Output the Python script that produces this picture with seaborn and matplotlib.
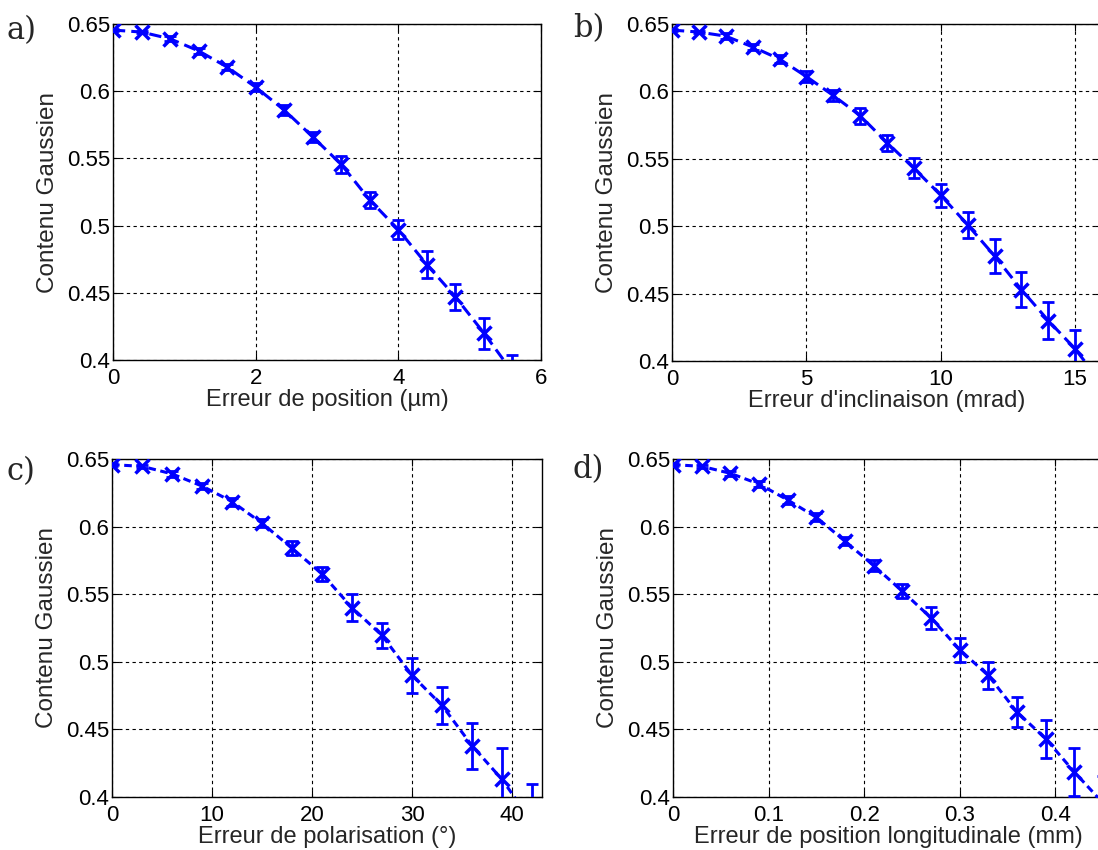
import matplotlib
matplotlib.use("Agg")
import matplotlib.pyplot as plt
import seaborn as sns
from matplotlib.ticker import FuncFormatter

sns.set_style("ticks")
plt.rcParams['font.family'] = ['Liberation Sans', 'DejaVu Sans']

# -----------------------------
# Data
# -----------------------------
# a) position error (um)
pos_x = [0, 0.4, 0.8, 1.2, 1.6, 2.0, 2.4, 2.8, 3.2, 3.6, 4.0, 4.4, 4.8, 5.2, 5.6]
pos_y = [0.6455, 0.644, 0.639, 0.630, 0.618, 0.603, 0.586, 0.566, 0.5455, 0.519,
         0.497, 0.471, 0.447, 0.420, 0.391]
pos_err = [0.001, 0.001, 0.002, 0.002, 0.002, 0.003, 0.004, 0.004, 0.006, 0.006,
           0.007, 0.010, 0.0095, 0.0115, 0.013]

# b) tilt error (mrad)
tilt_x = [0, 1, 2, 3, 4, 5, 6, 7, 8, 9, 10, 11, 12, 13, 14, 15, 16]
tilt_y = [0.6455, 0.644, 0.641, 0.633, 0.624, 0.611, 0.597, 0.582, 0.562, 0.543,
          0.523, 0.501, 0.478, 0.453, 0.430, 0.409, 0.383]
tilt_err = [0.001, 0.001, 0.002, 0.002, 0.003, 0.004, 0.004, 0.006, 0.006, 0.0075,
            0.0085, 0.0095, 0.0125, 0.013, 0.014, 0.014, 0.015]

# c) polarisation error (deg)
pol_x = [0, 3, 6, 9, 12, 15, 18, 21, 24, 27, 30, 33, 36, 39, 42]
pol_y = [0.6458, 0.6446, 0.639, 0.630, 0.6185, 0.6025, 0.584, 0.565, 0.540, 0.5195,
         0.490, 0.4677, 0.438, 0.413, 0.3815]
pol_err = [0.001, 0.001, 0.002, 0.002, 0.003, 0.003, 0.005, 0.005, 0.010, 0.009,
           0.013, 0.014, 0.017, 0.023, 0.028]

# d) longitudinal position error (mm)
lon_x = [0, 0.03, 0.06, 0.09, 0.12, 0.15, 0.18, 0.21, 0.24, 0.27, 0.30, 0.33, 0.36,
         0.39, 0.42, 0.45]
lon_y = [0.6458, 0.6446, 0.6394, 0.6315, 0.6197, 0.6069, 0.5892, 0.5712, 0.5522,
         0.5325, 0.5089, 0.4899, 0.4628, 0.4431, 0.4185, 0.3955]
lon_err = [0.001, 0.001, 0.002, 0.002, 0.003, 0.003, 0.003, 0.004, 0.005, 0.008,
           0.009, 0.010, 0.011, 0.014, 0.018, 0.020]

y_ticks = [0.4, 0.45, 0.5, 0.55, 0.6, 0.65]

panels = [
    dict(tag="a)", x=pos_x, y=pos_y, err=pos_err, xlim=(0, 6), xticks=[0, 2, 4, 6],
         xlabel="Erreur de position (µm)", px=(113, 24, 541, 360), tagpos=(7, 31),
         dash=(4, 2)),
    dict(tag="b)", x=tilt_x, y=tilt_y, err=tilt_err, xlim=(0, 16), xticks=[0, 5, 10, 15],
         xlabel="Erreur d'inclinaison (mrad)", px=(672, 24, 1102, 361), tagpos=(573, 29),
         dash=(4, 2)),
    dict(tag="c)", x=pol_x, y=pol_y, err=pol_err, xlim=(0, 43), xticks=[0, 10, 20, 30, 40],
         xlabel="Erreur de polarisation (°)", px=(112, 459, 542, 797), tagpos=(7, 472),
         dash=(2.5, 1.5)),
    dict(tag="d)", x=lon_x, y=lon_y, err=lon_err, xlim=(0, 0.45),
         xticks=[0, 0.1, 0.2, 0.3, 0.4],
         xlabel="Erreur de position longitudinale (mm)", px=(673, 459, 1103, 797),
         tagpos=(573, 470), dash=(2.5, 1.5)),
]

W, H = 1098, 850
fig = plt.figure(figsize=(W / 100, H / 100), dpi=100)
fmt = FuncFormatter(lambda v, p: "%g" % round(v, 3))

for p in panels:
    L, T, R, B = p["px"]
    ax = fig.add_axes([L / W, (H - B) / H, (R - L) / W, (B - T) / H])

    ax.errorbar(p["x"], p["y"], yerr=p["err"], fmt="none", ecolor="#0000ff",
                elinewidth=2, capsize=4, capthick=2, zorder=3)
    sns.lineplot(x=p["x"], y=p["y"], ax=ax, color="#0000ff", marker="x",
                 markersize=10, markeredgewidth=2.5, markeredgecolor="#0000ff",
                 linewidth=2.2, zorder=4)
    ax.lines[-1].set_dashes(p["dash"])

    ax.set_xlim(*p["xlim"])
    ax.set_ylim(0.4, 0.65)
    ax.set_xticks(p["xticks"])
    ax.set_yticks(y_ticks)
    ax.xaxis.set_major_formatter(fmt)
    ax.yaxis.set_major_formatter(fmt)
    ax.grid(True, color="black", linestyle=(0, (3, 3)), linewidth=0.8)
    ax.set_axisbelow(True)
    for s in ax.spines.values():
        s.set_color("black")
        s.set_linewidth(1)
    ax.tick_params(direction="in", length=5, width=0.8, top=True, right=True,
                   labelsize=16, colors="black", pad=2)
    ax.tick_params(axis="x", pad=5.5)

    ax.set_ylabel("Contenu Gaussien", fontsize=17.5)
    ax.yaxis.set_label_coords(-54 / (R - L), 0.5)
    ax.set_xlabel(p["xlabel"], fontsize=17)
    ax.xaxis.set_label_coords(0.5, -29 / (B - T))

    fig.text(p["tagpos"][0] / W, 1 - p["tagpos"][1] / H, p["tag"], fontsize=22,
             family="DejaVu Serif", va="center", ha="left")

fig.savefig("out.png", dpi=100)
